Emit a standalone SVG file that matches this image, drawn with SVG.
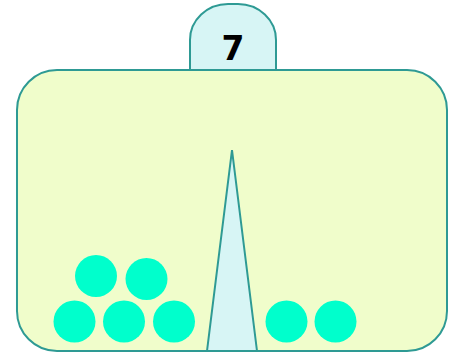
<svg xmlns="http://www.w3.org/2000/svg" width="460" height="354" viewBox="0 0 460 354">
<style>
.edge{stroke:#2e9a94;stroke-width:2}
.ball{fill:#00ffcc}
</style>
<rect width="460" height="354" fill="#ffffff"/>
<g id="box">
<rect class="edge" x="17" y="70" width="430" height="281" rx="40" ry="40" fill="#f0fdcb"/>
</g>
<g id="tab">
<path class="edge" d="M190,70 V40 A38,36 0 0 1 228,4 H238 A38,36 0 0 1 276,40 V70 Z" fill="#d7f5f5"/>
<text x="233" y="60" font-family="DejaVu Sans, sans-serif" font-size="33" font-weight="bold" text-anchor="middle" fill="#000">7</text>
</g>
<g id="divider">
<path class="edge" d="M232,150 L257,351 L207,351 Z" fill="#d7f5f5"/>
</g>
<g id="balls">
<circle class="ball" cx="96" cy="276" r="21"/>
<circle class="ball" cx="146.5" cy="279" r="21"/>
<circle class="ball" cx="74.5" cy="321.5" r="21"/>
<circle class="ball" cx="124" cy="321.5" r="21"/>
<circle class="ball" cx="174" cy="321.5" r="21"/>
<circle class="ball" cx="286.5" cy="321.5" r="21"/>
<circle class="ball" cx="335.5" cy="321.5" r="21"/>
</g>
</svg>
